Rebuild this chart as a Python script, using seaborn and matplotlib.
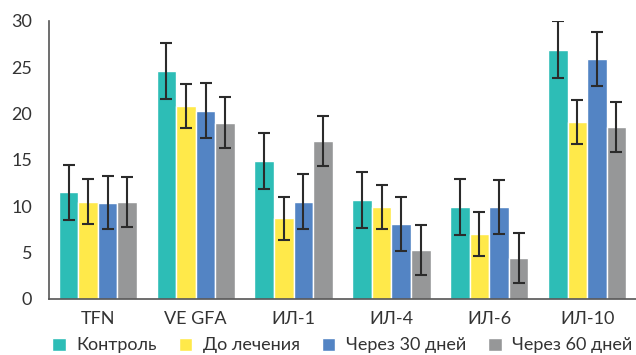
import numpy as np
import pandas as pd
import matplotlib
matplotlib.use("Agg")
import matplotlib.pyplot as plt
import seaborn as sns

# Data
categories = ["TFN", "VE GFA", "ИЛ-1", "ИЛ-4", "ИЛ-6", "ИЛ-10"]
groups = ["Контроль", "До лечения", "Через 30 дней", "Через 60 дней"]
kontrol = [11.5, 24.6, 14.9, 10.7, 9.9, 26.9]
do_lech = [10.5, 20.8, 8.7, 9.9, 7.0, 19.1]
d30 = [10.4, 20.3, 10.5, 8.1, 9.9, 25.9]
d60 = [10.5, 19.0, 17.0, 5.3, 4.4, 18.6]
err_kontrol = [3.0, 3.05, 3.0, 3.0, 3.05, 3.05]
err_do_lech = [2.4, 2.35, 2.35, 2.4, 2.4, 2.4]
err_d30 = [2.9, 2.95, 2.95, 2.9, 2.9, 2.95]
err_d60 = [2.7, 2.75, 2.7, 2.7, 2.7, 2.7]
palette = ["#2dbdb6", "#ffe94a", "#5384c4", "#969798"]

values = [kontrol, do_lech, d30, d60]
errors = [err_kontrol, err_do_lech, err_d30, err_d60]
rows = []
for g, vals, errs in zip(groups, values, errors):
    for c, v, e in zip(categories, vals, errs):
        rows.append({"cat": c, "group": g, "val": v, "err": e})
df = pd.DataFrame(rows)

sns.set_style("white")
plt.rcParams["font.family"] = ["Lato", "DejaVu Sans"]

fig = plt.figure(figsize=(6.36, 3.55), dpi=100)
ax = fig.add_axes([0.077, 0.158, 0.923, 0.783])

sns.barplot(data=df, x="cat", y="val", hue="group", order=categories,
            hue_order=groups, palette=palette, width=0.8, errorbar=None,
            saturation=1, ax=ax, legend=True)

# error bars on each bar
for cont, g in zip(ax.containers, groups):
    sub = df[df["group"] == g].set_index("cat").loc[categories]
    xs = [p.get_x() + p.get_width() / 2 for p in cont]
    ax.errorbar(xs, sub["val"], yerr=sub["err"], fmt="none", ecolor="#2b2b2b",
                elinewidth=1.5, capsize=4, capthick=1.5, zorder=5)

ax.set_xlim(-0.5, 5.5)
ax.set_ylim(0, 30)
ax.set_yticks(range(0, 31, 5))
ax.set_xlabel("")
ax.set_ylabel("")
sns.despine(ax=ax)
for s in ["left", "bottom"]:
    ax.spines[s].set_color("#555555")
    ax.spines[s].set_linewidth(1.2)

ax.set_xticks(np.arange(-0.5, 5.5, 1), minor=True)
ax.tick_params(axis="x", which="major", length=0, labelsize=13,
               labelcolor="#333333", pad=9)
ax.tick_params(axis="x", which="minor", length=8, width=1.2, color="#555555",
               direction="out")
ax.tick_params(axis="y", length=6, width=1.2, color="#555555",
               direction="out", labelsize=13, labelcolor="#333333", pad=6)

handles, labels = ax.get_legend_handles_labels()
ax.get_legend().remove()
fig.legend(handles, labels, loc="center left", bbox_to_anchor=(0.082, 0.027),
           ncol=4, frameon=False, fontsize=13, handlelength=0.75,
           handleheight=0.75, handletextpad=0.6, columnspacing=1.2,
           borderpad=0, borderaxespad=0, labelcolor="#333333")

fig.savefig("out.png", dpi=100)
